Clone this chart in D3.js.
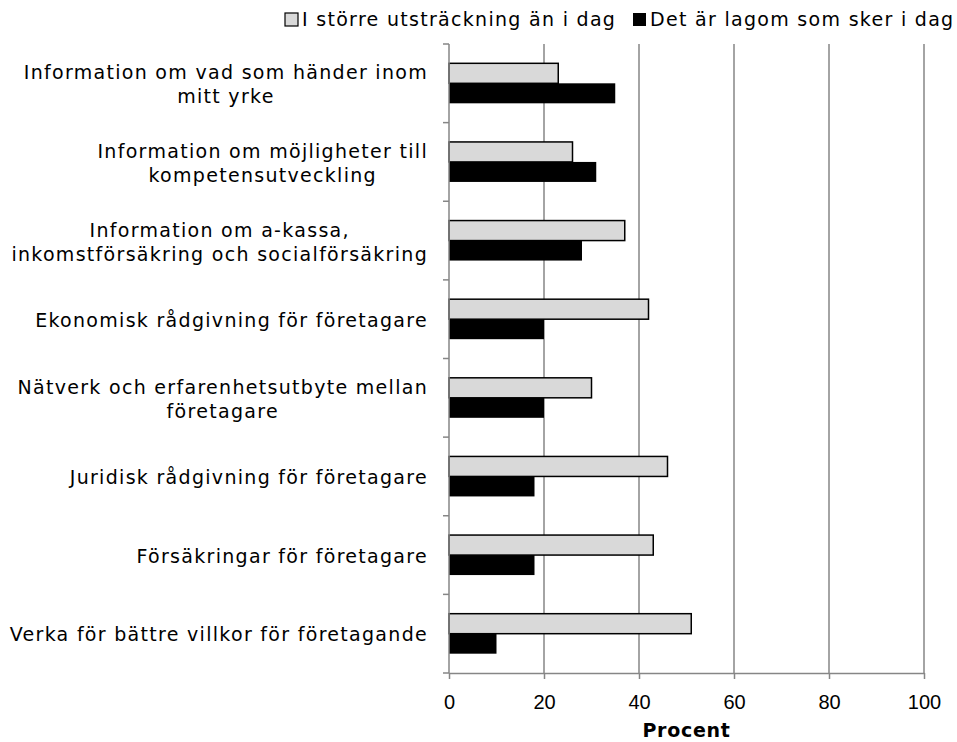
<!DOCTYPE html>
<head>
<meta charset="utf-8">
<script src="https://d3js.org/d3.v7.min.js"></script>
<style>
body {
	margin: 0;
	background: #fff;
	font-family: "DejaVu Sans", Verdana, sans-serif;
}
.grid line {
	stroke: #868686;
	stroke-width: 1.5px;
}
.axis path, .axis line {
	stroke: #868686;
	stroke-width: 1.5px;
}
.axis text {
	font-size: 20px;
	fill: #000;
}
.lbl {
	font-size: 19px;
	letter-spacing: 1.3px;
	fill: #000;
}
</style>
</head>
<body>
<svg id="chart" width="957" height="742"></svg>

<script>

var categories = [
	["Information om vad som händer inom", "mitt yrke"],
	["Information om möjligheter till", "kompetensutveckling"],
	["Information om a-kassa,", "inkomstförsäkring och socialförsäkring"],
	["Ekonomisk rådgivning för företagare"],
	["Nätverk och erfarenhetsutbyte mellan", "företagare"],
	["Juridisk rådgivning för företagare"],
	["Försäkringar för företagare"],
	["Verka för bättre villkor för företagande"]
];
var seriesNames = ["I större utsträckning än i dag", "Det är lagom som sker i dag"];
var storre = [23, 26, 37, 42, 30, 46, 43, 51];
var lagom = [35, 31, 28, 20, 20, 18, 18, 10];
var xTicks = [0, 20, 40, 60, 80, 100];

var svg = d3.select("#chart"),
	margin = {top: 44, right: 33, bottom: 69, left: 449},
	width = +svg.attr("width"),
	height = +svg.attr("height");

var x = d3.scaleLinear()
	.domain([0, 100])
	.range([margin.left, width - margin.right]);

var y = d3.scaleBand()
	.domain(d3.range(categories.length))
	.range([margin.top, height - margin.bottom]);

var colors = ["#d9d9d9", "#000"];
var barH = 20;

// vertical gridlines
svg.append("g")
	.attr("class", "grid")
	.selectAll("line")
	.data(xTicks.slice(1))
	.join("line")
	.attr("x1", d => x(d)).attr("x2", d => x(d))
	.attr("y1", y.range()[0]).attr("y2", y.range()[1]);

// bars
var rows = [storre, lagom];
rows.forEach(function(vals, s) {
	svg.append("g")
		.selectAll("rect")
		.data(vals)
		.join("rect")
		.attr("x", x(0))
		.attr("y", (d, i) => y(i) + y.bandwidth() / 2 - barH + s * barH)
		.attr("width", d => x(d) - x(0))
		.attr("height", barH)
		.style("fill", colors[s])
		.style("stroke", "#000")
		.style("stroke-width", s == 0 ? 1.5 : 0);
});

// x axis
svg.append("g")
	.attr("class", "axis")
	.attr("transform", "translate(0," + y.range()[1] + ")")
	.call(d3.axisBottom(x).tickValues(xTicks).tickSize(6).tickSizeOuter(0).tickPadding(16));

// y axis, ticks on the band edges
var yAxis = svg.append("g").attr("class", "axis");
yAxis.append("line")
	.attr("x1", x(0)).attr("x2", x(0))
	.attr("y1", y.range()[0]).attr("y2", y.range()[1]);
yAxis.selectAll(".tk")
	.data(d3.range(categories.length + 1))
	.join("line")
	.attr("class", "tk")
	.attr("x1", x(0) - 6).attr("x2", x(0))
	.attr("y1", i => margin.top + i * y.step())
	.attr("y2", i => margin.top + i * y.step());

// category labels: block right aligned, lines centred in the block
var lab = svg.append("g")
	.selectAll("text")
	.data(categories)
	.join("text")
	.attr("class", "lbl")
	.attr("text-anchor", "middle")
	.attr("y", (d, i) => y(i) + y.bandwidth() / 2);

lab.each(function(lines) {
	var t = d3.select(this);
	var n = lines.length;
	lines.forEach(function(l, j) {
		t.append("tspan")
			.attr("dy", j == 0 ? (n == 1 ? 7.5 : -4) : 24)
			.text(l);
	});
	var maxW = 0;
	t.selectAll("tspan").each(function() {
		maxW = Math.max(maxW, this.getComputedTextLength());
	});
	t.selectAll("tspan").attr("x", 428 - maxW / 2);
});

// x axis title
svg.append("text")
	.attr("x", (x(0) + x(100)) / 2)
	.attr("y", 737)
	.attr("text-anchor", "middle")
	.attr("font-size", 19)
	.attr("font-weight", "bold")
	.style("letter-spacing", "0.7px")
	.text("Procent");

// legend
var legend = svg.append("g").attr("transform", "translate(0,26)");
var legX = [285, 633];
seriesNames.forEach(function(name, s) {
	legend.append("rect")
		.attr("x", legX[s]).attr("y", -13)
		.attr("width", 13).attr("height", 13)
		.style("fill", colors[s])
		.style("stroke", "#000")
		.style("stroke-width", s == 0 ? 1.2 : 0);
	legend.append("text")
		.attr("class", "lbl")
		.attr("x", legX[s] + 17)
		.text(name);
});

</script>
</body>
